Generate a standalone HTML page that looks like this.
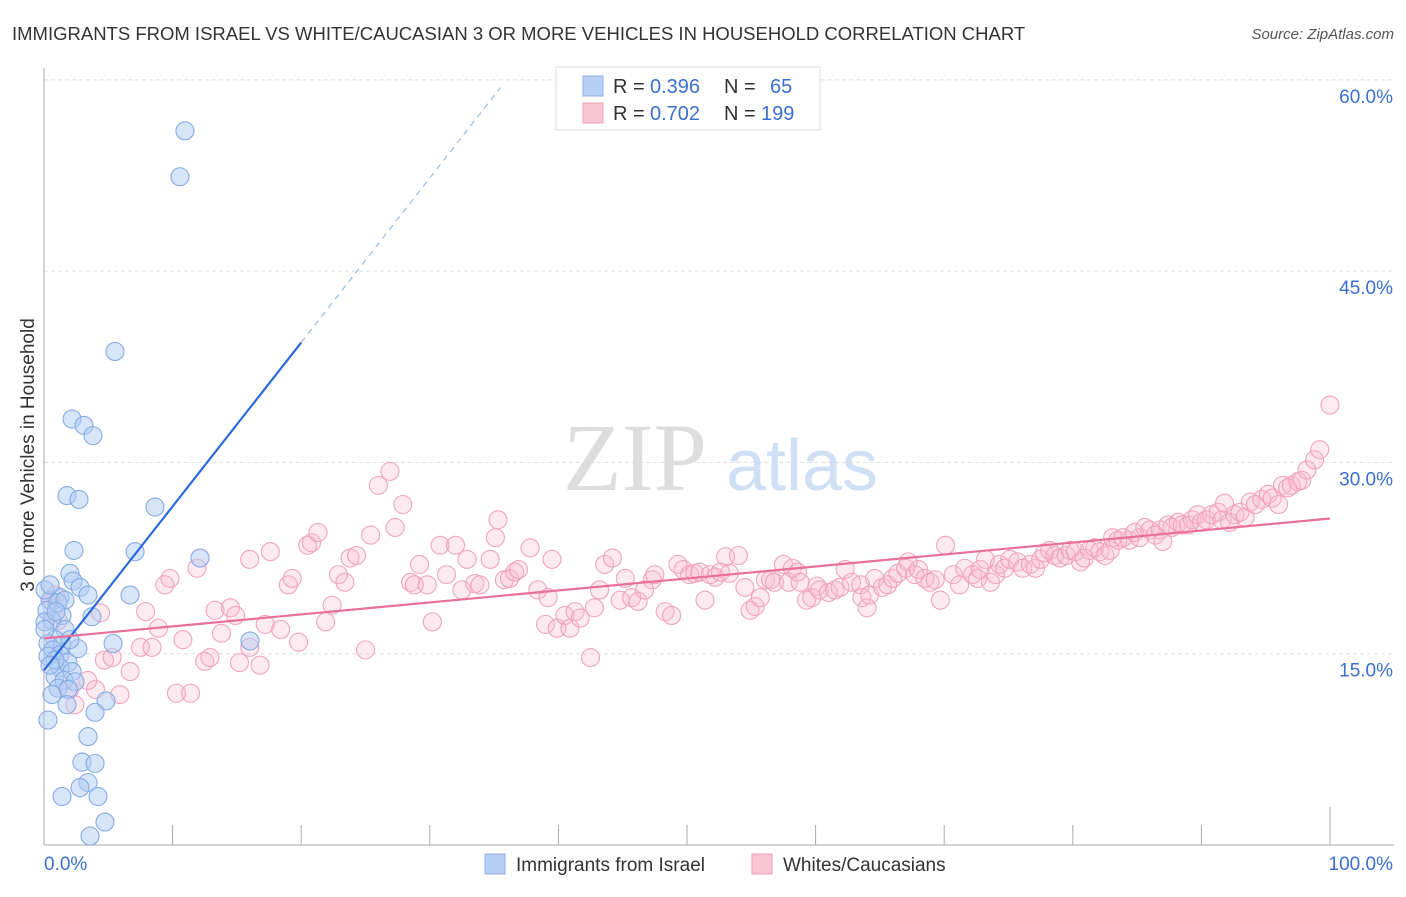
<!DOCTYPE html>
<html><head><meta charset="utf-8"><style>
body{margin:0;background:#fff;width:1406px;height:892px;overflow:hidden;font-family:"Liberation Sans",sans-serif}
</style></head><body>
<svg width="1406" height="892" xmlns="http://www.w3.org/2000/svg">
<text x="12" y="40" font-size="18.5" fill="#333">IMMIGRANTS FROM ISRAEL VS WHITE/CAUCASIAN 3 OR MORE VEHICLES IN HOUSEHOLD CORRELATION CHART</text>
<text x="1394" y="39" font-size="15" fill="#555" font-style="italic" text-anchor="end">Source: ZipAtlas.com</text>
<g id="grid"></g>
<g>
<text x="635" y="490" font-size="96" font-family="Liberation Serif,serif" fill="#ddd" text-anchor="middle">ZIP</text>
<text x="802" y="490" font-size="72" fill="#cfe0f5" text-anchor="middle">atlas</text>
</g>
<g id="pts"></g>
<g id="lines"></g>
<text transform="translate(34,455) rotate(-90)" font-size="19" fill="#333" text-anchor="middle">3 or more Vehicles in Household</text>
<g>
<rect x="556" y="67" width="264" height="63" fill="#fff" stroke="#ddd"/>
<rect x="583" y="76" width="20" height="20" fill="#b7d0f3" stroke="#8fb2e6"/>
<rect x="583" y="103" width="20" height="20" fill="#f9c4d4" stroke="#ee9bb6"/>
<text y="93" font-size="20" fill="#333"><tspan x="613">R =</tspan><tspan x="650" fill="#3a6fd0">0.396</tspan><tspan x="724">N =</tspan><tspan x="770" fill="#3a6fd0">65</tspan></text>
<text y="120" font-size="20" fill="#333"><tspan x="613">R =</tspan><tspan x="650" fill="#3a6fd0">0.702</tspan><tspan x="724">N =</tspan><tspan x="761" fill="#3a6fd0">199</tspan></text>
</g>
<g>
<rect x="485" y="854" width="20" height="20" fill="#b7d0f3" stroke="#8fb2e6"/>
<text x="516" y="871" font-size="19" fill="#333">Immigrants from Israel</text>
<rect x="752" y="854" width="20" height="20" fill="#f9c4d4" stroke="#ee9bb6"/>
<text x="783" y="871" font-size="19" fill="#333">Whites/Caucasians</text>
</g>
</svg>
<script>
const yTicks=[15,30,45,60];
const yTickLabels=["15.0%","30.0%","45.0%","60.0%"];
const xTickLabels=["0.0%","100.0%"];
const blueX=[10.96,10.57,5.52,2.18,3.11,3.81,1.79,2.72,8.63,2.33,7.08,12.13,2.02,2.26,2.80,3.42,6.69,1.24,0.47,0.23,1.40,3.73,0.62,0.08,1.63,0.86,5.37,0.31,1.40,2.64,16.02,0.70,1.24,0.31,1.87,1.24,2.18,0.86,1.56,2.41,1.09,1.87,0.62,4.82,1.79,3.97,0.31,3.42,2.95,3.97,3.42,2.80,1.40,4.20,4.74,3.58,0.08,0.47,1.09,0.08,0.86,2.02,1.63,0.47,0.93];
const blueY=[56.0,52.4,38.7,33.4,32.9,32.1,27.4,27.1,26.5,23.1,23.0,22.5,21.3,20.7,20.2,19.6,19.6,19.4,19.2,18.4,18.0,17.9,17.6,17.5,16.9,16.1,15.8,15.8,15.7,15.4,16.0,15.3,14.9,14.8,14.3,13.9,13.6,13.2,12.9,12.8,12.3,12.2,11.8,11.3,11.0,10.4,9.8,8.5,6.5,6.4,4.9,4.5,3.8,3.8,1.8,0.7,20.0,20.4,19.0,16.9,14.5,16.1,19.2,14.1,18.3];
const pinkX=[0.5,0.9,1.1,4.4,9.4,9.8,4.7,5.3,6.7,5.9,4.0,2.4,3.4,2.0,7.5,8.4,7.9,8.9,10.8,10.3,11.4,11.9,12.5,12.9,13.3,13.8,14.5,14.9,15.2,16.0,16.8,16.0,17.2,17.6,18.4,19.0,19.3,19.8,20.5,20.8,21.3,21.9,22.4,22.9,23.4,23.8,24.3,25.0,25.4,26.0,26.9,27.3,27.9,28.5,28.8,29.2,29.8,30.2,30.8,31.3,32.0,32.5,32.9,33.5,33.9,34.7,35.1,35.3,35.8,36.2,36.6,36.9,37.8,38.4,39.0,39.2,39.5,39.9,40.5,40.9,41.3,41.7,42.5,42.8,43.2,43.6,44.2,44.8,45.2,45.7,46.2,46.7,47.3,47.5,48.3,48.8,49.3,49.7,50.2,50.6,51.0,51.4,51.8,52.2,52.6,53.0,53.3,54.0,54.5,54.9,55.3,55.7,56.1,56.5,56.8,57.5,57.9,58.2,58.6,58.8,59.3,59.7,60.1,60.3,61.0,61.5,61.9,62.3,62.8,63.5,63.6,64.0,64.2,64.6,65.2,65.6,66.0,66.4,67.0,67.2,67.7,68.0,68.5,68.9,69.3,69.7,70.1,70.7,71.2,71.6,72.2,72.6,72.8,73.2,73.6,74.0,74.3,74.7,75.1,75.7,76.1,76.7,77.1,77.5,77.8,78.2,78.6,79.0,79.5,79.8,80.2,80.6,80.9,81.3,81.7,82.1,82.5,82.9,83.1,83.5,83.9,84.4,84.8,85.2,85.6,86.0,86.4,86.8,87.0,87.4,87.7,88.2,88.5,89.0,89.3,89.7,90.0,90.4,90.8,91.3,91.6,91.8,92.2,92.6,93.0,93.4,93.8,94.2,94.7,95.2,95.5,96.0,96.3,96.7,97.0,97.5,97.8,98.2,98.8,99.2,100.0];
const pinkY=[19.2,19.6,17.6,18.2,20.4,20.9,14.5,14.7,13.6,11.8,12.2,11.0,12.9,12.2,15.5,15.5,18.3,17.0,16.1,11.9,11.9,21.7,14.4,14.7,18.4,16.6,18.6,18.0,14.3,15.5,14.1,22.4,17.3,23.0,16.9,20.4,20.9,15.9,23.5,23.7,24.5,17.5,18.8,21.2,20.6,22.5,22.7,15.3,24.3,28.2,29.3,24.9,26.7,20.6,20.4,22.0,20.4,17.5,23.5,21.2,23.5,20.0,22.4,20.5,20.4,22.4,24.1,25.5,20.8,20.9,21.4,21.6,23.3,20.0,17.3,19.4,22.4,17.0,18.0,17.0,18.3,17.8,14.7,18.6,20.0,22.0,22.5,19.2,20.9,19.4,19.1,20.0,20.8,21.2,18.3,18.0,22.0,21.6,21.2,21.3,21.4,19.2,21.2,21.0,21.4,22.6,21.3,22.7,20.2,18.4,18.7,19.4,20.8,20.8,20.6,22.0,20.6,21.7,21.4,20.6,19.2,19.4,20.3,20.0,19.8,20.0,20.2,21.6,20.6,20.4,19.4,18.6,19.6,20.9,20.2,20.4,20.9,21.3,21.7,22.2,21.2,21.6,20.9,20.6,20.8,19.2,23.5,21.2,20.4,21.7,21.2,20.9,21.6,22.4,20.6,21.2,22.0,21.7,22.4,22.2,21.7,22.0,21.7,22.4,22.9,23.1,22.7,22.5,22.7,23.1,23.0,22.2,22.5,23.1,23.3,23.0,22.7,23.1,24.1,23.9,24.1,23.9,24.5,24.1,24.9,24.7,24.3,24.7,23.8,25.1,24.9,25.3,25.1,25.1,25.5,25.9,25.3,25.5,25.9,26.1,25.5,26.8,25.3,25.9,26.1,25.7,26.9,26.7,27.1,27.5,27.2,26.7,28.2,28.0,28.2,28.5,28.6,29.4,30.2,31.0,34.5];
const blueLine=[[0,13.7],[20,39.4]];
const blueDash=[[20,39.4],[35.5,59.4]];
const pinkLine=[[0,16.2],[100,25.6]];
const sx=v=>44+v*12.86, sy=v=>845-v*12.753;
const NS="http://www.w3.org/2000/svg";
function mk(t,a,p){const e=document.createElementNS(NS,t);for(const k in a)e.setAttribute(k,a[k]);p.appendChild(e);return e;}
const grid=document.getElementById('grid');
yTicks.forEach((t,i)=>{
 const g=mk('line',{x1:44,x2:1394,y1:sy(t),y2:sy(t),stroke:'#ddd','stroke-dasharray':'4,3'},grid);
 
 
 const l=mk('text',{x:1393,y:sy(t)+23,'font-size':19,fill:'#3a6fd0','text-anchor':'end'},grid);l.textContent=yTickLabels[i];
 
 
});
mk('line',{x1:44,x2:44,y1:68,y2:845,stroke:'#aaa'},grid);
mk('line',{x1:44,x2:1394,y1:845,y2:845,stroke:'#aaa'},grid);
for(let i=1;i<=10;i++){const t=mk('line',{x1:sx(i*10),x2:sx(i*10),y1:i==10?807:825,y2:845,stroke:'#aaa'},grid);
 
 }
const x0=mk('text',{x:44,y:870,'font-size':19,fill:'#3a6fd0'},grid);x0.textContent=xTickLabels[0];


const x1=mk('text',{x:1393,y:870,'font-size':19,fill:'#3a6fd0','text-anchor':'end'},grid);x1.textContent=xTickLabels[1];


const pts=document.getElementById('pts');
pinkX.forEach((x,i)=>{const c=mk('circle',{cx:sx(x),cy:sy(pinkY[i]),r:9,fill:'rgba(248,185,205,0.3)',stroke:'#f0a3bd','stroke-width':1.1},pts);
 
 });
blueX.forEach((x,i)=>{const c=mk('circle',{cx:sx(x),cy:sy(blueY[i]),r:9,fill:'rgba(175,203,243,0.5)',stroke:'#86abe3','stroke-width':1.1},pts);
 
 });
const ln=document.getElementById('lines');
const a=mk('line',{x1:sx(blueLine[0][0]),y1:sy(blueLine[0][1]),x2:sx(blueLine[1][0]),y2:sy(blueLine[1][1]),stroke:'#2a6ad8','stroke-width':2.2},ln);


const b=mk('line',{x1:sx(blueDash[0][0]),y1:sy(blueDash[0][1]),x2:sx(blueDash[1][0]),y2:sy(blueDash[1][1]),stroke:'#9bb8e8','stroke-width':1.2,'stroke-dasharray':'6,5'},ln);


const c=mk('line',{x1:sx(pinkLine[0][0]),y1:sy(pinkLine[0][1]),x2:sx(pinkLine[1][0]),y2:sy(pinkLine[1][1]),stroke:'#e8709a','stroke-width':2.2},ln);


</script>
</body></html>
